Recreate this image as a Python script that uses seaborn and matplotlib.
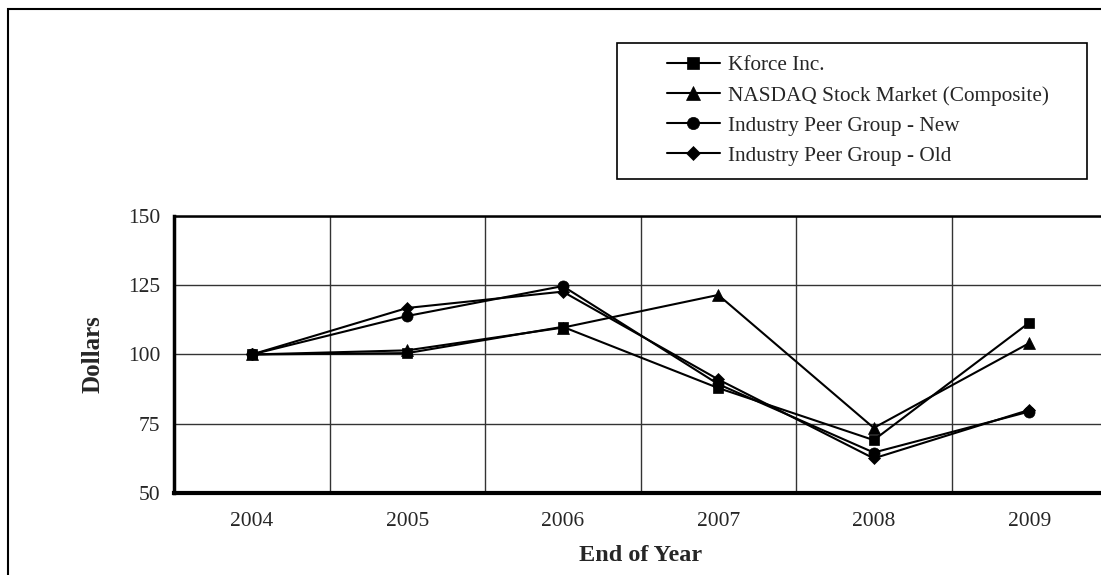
import pandas as pd
import seaborn as sns
import matplotlib
matplotlib.use('Agg')
import matplotlib.pyplot as plt
from matplotlib.patches import Rectangle

# values
years = [2004, 2005, 2006, 2007, 2008, 2009]
kforce = [100, 100.5, 110.0, 87.9, 69.1, 111.5]
nasdaq = [100, 101.5, 109.7, 121.5, 73.5, 104.1]
peer_new = [100, 113.9, 124.7, 89.3, 64.6, 79.4]
peer_old = [100, 116.8, 122.7, 91.0, 62.5, 80.0]
labels = ['Kforce Inc.', 'NASDAQ Stock Market (Composite)',
          'Industry Peer Group - New', 'Industry Peer Group - Old']
y_ticks = [50, 75, 100, 125, 150]

df = pd.DataFrame({
    'year': years * 4,
    'value': kforce + nasdaq + peer_new + peer_old,
    'series': [lab for lab in labels for _ in years],
})

sns.set_style('white')
plt.rcParams['font.family'] = ['Liberation Serif', 'DejaVu Serif']

W, H = 1101, 575
fig = plt.figure(figsize=(W / 100, H / 100), dpi=100)
ax = fig.add_axes([174 / W, 1 - 493 / H, 933 / W, 277 / H])

sns.lineplot(data=df, x='year', y='value', style='series',
             markers=['s', '^', 'o', 'D'], dashes=False, color='black',
             markersize=8, linewidth=1.5, legend=False, ax=ax)
# marker sizes differ a bit per shape in the original
for line, ms in zip(ax.lines[:4], [7.5, 9, 8, 6.5]):
    line.set_markersize(ms)
    line.set_markeredgecolor('black')
    line.set_markerfacecolor('black')
    line.set_markeredgewidth(0.5)

ax.set_xlim(2003.5, 2009.5)
ax.set_ylim(50, 150)
ax.set_xticks(years)
ax.set_xticks([y - 0.5 for y in years] + [2009.5], minor=True)
ax.set_yticks(y_ticks)
ax.tick_params(axis='x', which='major', length=0, labelsize=15.5, pad=14)
ax.tick_params(axis='x', which='minor', length=8, width=1, direction='out',
               color='black')
ax.tick_params(axis='y', length=8, width=1, direction='out', color='black',
               labelsize=15.5, pad=2)
ax.grid(axis='x', which='minor', color='#333333', linewidth=1)
ax.grid(axis='y', which='major', color='#333333', linewidth=1)

ax.spines['right'].set_visible(False)
ax.spines['left'].set_linewidth(2.5)
ax.spines['bottom'].set_linewidth(3)
ax.spines['top'].set_linewidth(1.8)
for s in ax.spines.values():
    s.set_color('black')

ax.set_xlabel('End of Year', fontsize=17.5, fontweight='bold', labelpad=10)
ax.set_ylabel('Dollars', fontsize=18, fontweight='bold', labelpad=17)

# legend box drawn separately to get its wide side padding
fig.patches.append(Rectangle((617 / W, 1 - 179 / H), 470 / W, 136 / H,
                             transform=fig.transFigure, fill=False,
                             edgecolor='black', linewidth=1.2))
fig.legend(ax.lines[:4], labels, loc='upper left',
           bbox_to_anchor=(656 / W, 1 - 45 / H), frameon=False,
           borderpad=0, fontsize=15.3, handlelength=2.5, handletextpad=0.4,
           labelspacing=0.48, markerscale=1.1)

# outer page frame
fig.patches.append(Rectangle((8 / W, -0.1), 2, 1 - 9 / H + 0.1,
                             transform=fig.transFigure, fill=False,
                             edgecolor='black', linewidth=1.5))

fig.savefig('out.png', dpi=100)
